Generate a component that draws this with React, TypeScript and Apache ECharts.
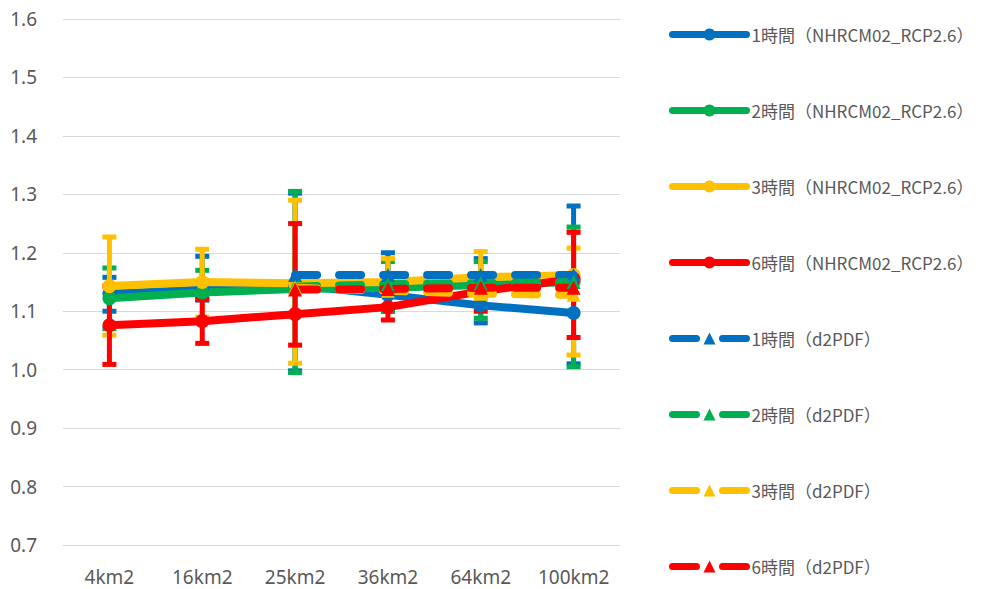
import React, { useEffect, useRef } from "react";
import * as echarts from "echarts";

const categories = ["4km2", "16km2", "25km2", "36km2", "64km2", "100km2"];
const yTicks = { min: 0.7, max: 1.6, interval: 0.1 };

const seriesNames = [
  "1時間（NHRCM02_RCP2.6）",
  "2時間（NHRCM02_RCP2.6）",
  "3時間（NHRCM02_RCP2.6）",
  "6時間（NHRCM02_RCP2.6）",
  "1時間（d2PDF）",
  "2時間（d2PDF）",
  "3時間（d2PDF）",
  "6時間（d2PDF）",
];

const nhrcm1 = [1.13, 1.137, 1.145, 1.128, 1.11, 1.097];
const nhrcm2 = [1.122, 1.132, 1.138, 1.14, 1.145, 1.15];
const nhrcm3 = [1.143, 1.15, 1.148, 1.15, 1.158, 1.162];
const nhrcm6 = [1.076, 1.083, 1.095, 1.107, 1.134, 1.155];

const d2pdf1 = [null, null, 1.162, 1.162, 1.162, 1.162];
const d2pdf2 = [null, null, 1.142, 1.146, 1.148, 1.15];
const d2pdf3 = [null, null, 1.14, 1.135, 1.13, 1.128];
const d2pdf6 = [null, null, 1.137, 1.138, 1.14, 1.14];

const errLow1 = [1.1, 1.119, 0.998, 1.1, 1.08, 1.01];
const errHigh1 = [1.158, 1.194, 1.302, 1.2, 1.19, 1.28];
const errLow2 = [1.07, 1.125, 0.995, 1.1, 1.088, 1.005];
const errHigh2 = [1.174, 1.17, 1.305, 1.185, 1.185, 1.244];
const errLow3 = [1.059, 1.09, 1.011, 1.11, 1.12, 1.025];
const errHigh3 = [1.227, 1.206, 1.29, 1.19, 1.202, 1.208];
const errLow6 = [1.009, 1.045, 1.042, 1.085, 1.1, 1.055];
const errHigh6 = [1.143, 1.12, 1.25, 1.13, 1.16, 1.235];

const colors = ["#0070C0", "#00B050", "#FFC000", "#FF0000"];

function errorSeries(low: number[], high: number[], color: string) {
  return {
    type: "custom",
    data: low.map((l, i) => [i, l, high[i]]),
    z: 2,
    silent: true,
    renderItem: (params: any, api: any) => {
      const x = api.value(0);
      const lo = api.coord([x, api.value(1)]);
      const hi = api.coord([x, api.value(2)]);
      const capW = 14;
      const capH = 5;
      return {
        type: "group",
        children: [
          {
            type: "line",
            shape: { x1: lo[0], y1: lo[1], x2: hi[0], y2: hi[1] },
            style: { stroke: color, lineWidth: 5 },
          },
          {
            type: "rect",
            shape: { x: lo[0] - capW / 2, y: lo[1] - capH / 2, width: capW, height: capH },
            style: { fill: color },
          },
          {
            type: "rect",
            shape: { x: hi[0] - capW / 2, y: hi[1] - capH / 2, width: capW, height: capH },
            style: { fill: color },
          },
        ],
      };
    },
  };
}

function solidSeries(name: string, data: (number | null)[], color: string) {
  return {
    name,
    type: "line",
    data,
    symbol: "circle",
    symbolSize: 14,
    lineStyle: { color, width: 8, cap: "round", join: "round" },
    itemStyle: { color },
    z: 3,
  };
}

function dashedSeries(name: string, data: (number | null)[], color: string) {
  return {
    name,
    type: "line",
    data,
    symbol: "triangle",
    symbolSize: 14,
    lineStyle: { color, width: 8, type: [22, 22], cap: "round", join: "round" },
    itemStyle: { color },
    z: 4,
  };
}

export default function App() {
  const ref = useRef<HTMLDivElement>(null);
  useEffect(() => {
    if (!ref.current) return;
    const chart = echarts.init(ref.current, undefined, { renderer: "svg" });
    const legendData = seriesNames.map((name, i) => ({
      name,
      lineStyle:
        i < 4
          ? { width: 7, type: "solid", cap: "round" }
          : { width: 7, type: [24, 26], cap: "round" },
    }));
    chart.setOption({
      animation: false,
      backgroundColor: "#ffffff",
      grid: { left: 63, right: 369, top: 19, bottom: 44 },
      xAxis: {
        type: "category",
        data: categories,
        axisLine: { show: true, lineStyle: { color: "#d9d9d9", width: 1 } },
        axisTick: { show: false },
        axisLabel: {
          color: "#595959",
          fontSize: 19,
          fontFamily: "Noto Sans",
          margin: 22,
        },
      },
      yAxis: {
        type: "value",
        min: yTicks.min,
        max: yTicks.max,
        interval: yTicks.interval,
        axisLine: { show: false },
        axisTick: { show: false },
        splitLine: { lineStyle: { color: "#d9d9d9", width: 1 } },
        axisLabel: {
          color: "#595959",
          fontSize: 19,
          fontFamily: "Noto Sans",
          margin: 26,
          formatter: (v: number) => v.toFixed(1),
        },
      },
      legend: {
        data: legendData,
        orient: "vertical",
        left: 669,
        top: 26,
        padding: 0,
        itemWidth: 74,
        itemHeight: 15,
        itemGap: 59,
        textStyle: {
          color: "#595959",
          fontSize: 17,
          fontFamily: "Noto Sans CJK JP",
        },
      },
      series: [
        errorSeries(errLow1, errHigh1, colors[0]),
        errorSeries(errLow2, errHigh2, colors[1]),
        errorSeries(errLow3, errHigh3, colors[2]),
        errorSeries(errLow6, errHigh6, colors[3]),
        solidSeries(seriesNames[0], nhrcm1, colors[0]),
        solidSeries(seriesNames[1], nhrcm2, colors[1]),
        solidSeries(seriesNames[2], nhrcm3, colors[2]),
        solidSeries(seriesNames[3], nhrcm6, colors[3]),
        dashedSeries(seriesNames[4], d2pdf1, colors[0]),
        dashedSeries(seriesNames[5], d2pdf2, colors[1]),
        dashedSeries(seriesNames[6], d2pdf3, colors[2]),
        dashedSeries(seriesNames[7], d2pdf6, colors[3]),
      ],
    });
    return () => chart.dispose();
  }, []);
  return (
    <div
      ref={ref}
      style={{ position: "fixed", left: 0, top: 0, width: 989, height: 589 }}
    />
  );
}
